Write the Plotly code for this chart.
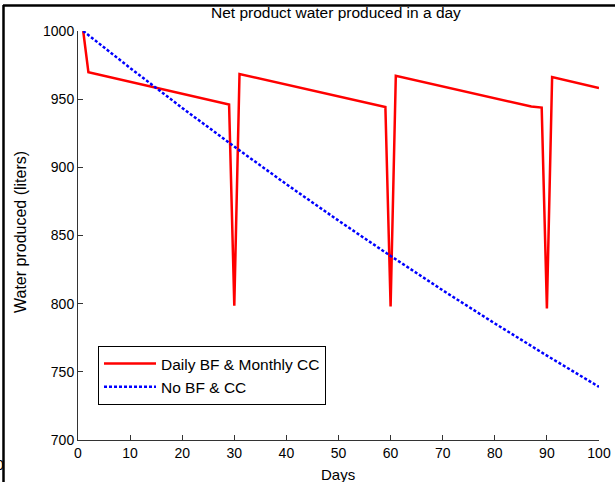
import plotly.graph_objects as go

# Data
days_red = [1, 2, 29, 30, 31, 59, 60, 61, 87, 88, 89, 90, 91, 100]
water_red = [1000, 969.7, 946.0, 798.5, 968.5, 944.2, 798.0, 967.2, 944.6, 944.2, 943.8, 796.5, 966.2, 958.2]

days_blue = [1, 10, 20, 30, 40, 50, 60, 70, 80, 90, 100]
water_blue = [1000, 972.9, 943.6, 915.2, 887.6, 860.9, 835.0, 809.8, 785.5, 761.9, 739.0]

x_ticks = [0, 10, 20, 30, 40, 50, 60, 70, 80, 90, 100]
y_ticks = [700, 750, 800, 850, 900, 950, 1000]

W, H = 615, 482
L, R, T, B = 78, 599, 31, 440
pw, ph = R - L, B - T


def px(x):
    return (x - L) / pw


def py(y):
    return (B - y) / ph


FONT = "Liberation Sans, Arial, sans-serif"

fig = go.Figure()
fig.add_trace(go.Scatter(x=days_red, y=water_red, mode="lines",
                         name="Daily BF & Monthly CC",
                         line=dict(color="#ff0000", width=2.5)))
fig.add_trace(go.Scatter(x=days_blue, y=water_blue, mode="lines",
                         name="No BF & CC",
                         line=dict(color="#0000ff", width=2.5, dash="3px,2px")))

fig.update_layout(
    width=W, height=H, autosize=False,
    margin=dict(l=L, r=W - R, t=T, b=H - B, pad=0, autoexpand=False),
    paper_bgcolor="white", plot_bgcolor="white",
    font=dict(family=FONT, size=14, color="black"),
    showlegend=True,
    legend=dict(x=px(98), y=py(346), xanchor="left", yanchor="top",
                bgcolor="white", bordercolor="black", borderwidth=1,
                itemwidth=52,
                font=dict(size=15.5), tracegroupgap=0),
    xaxis=dict(range=[0, 100], tickvals=x_ticks, ticks="inside", ticklen=5,
               tickcolor="#333", showline=True, linecolor="#333", linewidth=1,
               showgrid=False, zeroline=False, mirror=False, automargin=False,
               tickfont=dict(size=14)),
    yaxis=dict(range=[700, 1000], tickvals=y_ticks, ticks="inside", ticklen=5,
               tickcolor="#333", showline=True, linecolor="#333", linewidth=1,
               showgrid=False, zeroline=False, mirror=False, automargin=False,
               tickfont=dict(size=14)),
    annotations=[
        dict(text="Net product water produced in a day", xref="paper", yref="paper",
             x=px(336), y=py(12), xanchor="center", yanchor="middle",
             showarrow=False, font=dict(size=15.5)),
        dict(text="Days", xref="paper", yref="paper",
             x=px(338), y=py(474), xanchor="center", yanchor="middle",
             showarrow=False, font=dict(size=15)),
        dict(text="Water produced (liters)", xref="paper", yref="paper",
             x=px(20), y=py(232), xanchor="center", yanchor="middle",
             showarrow=False, textangle=-90, font=dict(size=16)),
        dict(text="0", xref="paper", yref="paper",
             x=px(0), y=py(465), xanchor="center", yanchor="middle",
             showarrow=False, font=dict(size=14)),
    ],
    shapes=[
        dict(type="line", xref="paper", yref="paper",
             x0=px(3), x1=px(615), y0=py(5.5), y1=py(5.5),
             line=dict(color="black", width=2.5)),
        dict(type="line", xref="paper", yref="paper",
             x0=px(3.5), x1=px(3.5), y0=py(5), y1=py(482),
             line=dict(color="black", width=2.5)),
    ],
)

fig.write_html("out.html", config={"responsive": False})
